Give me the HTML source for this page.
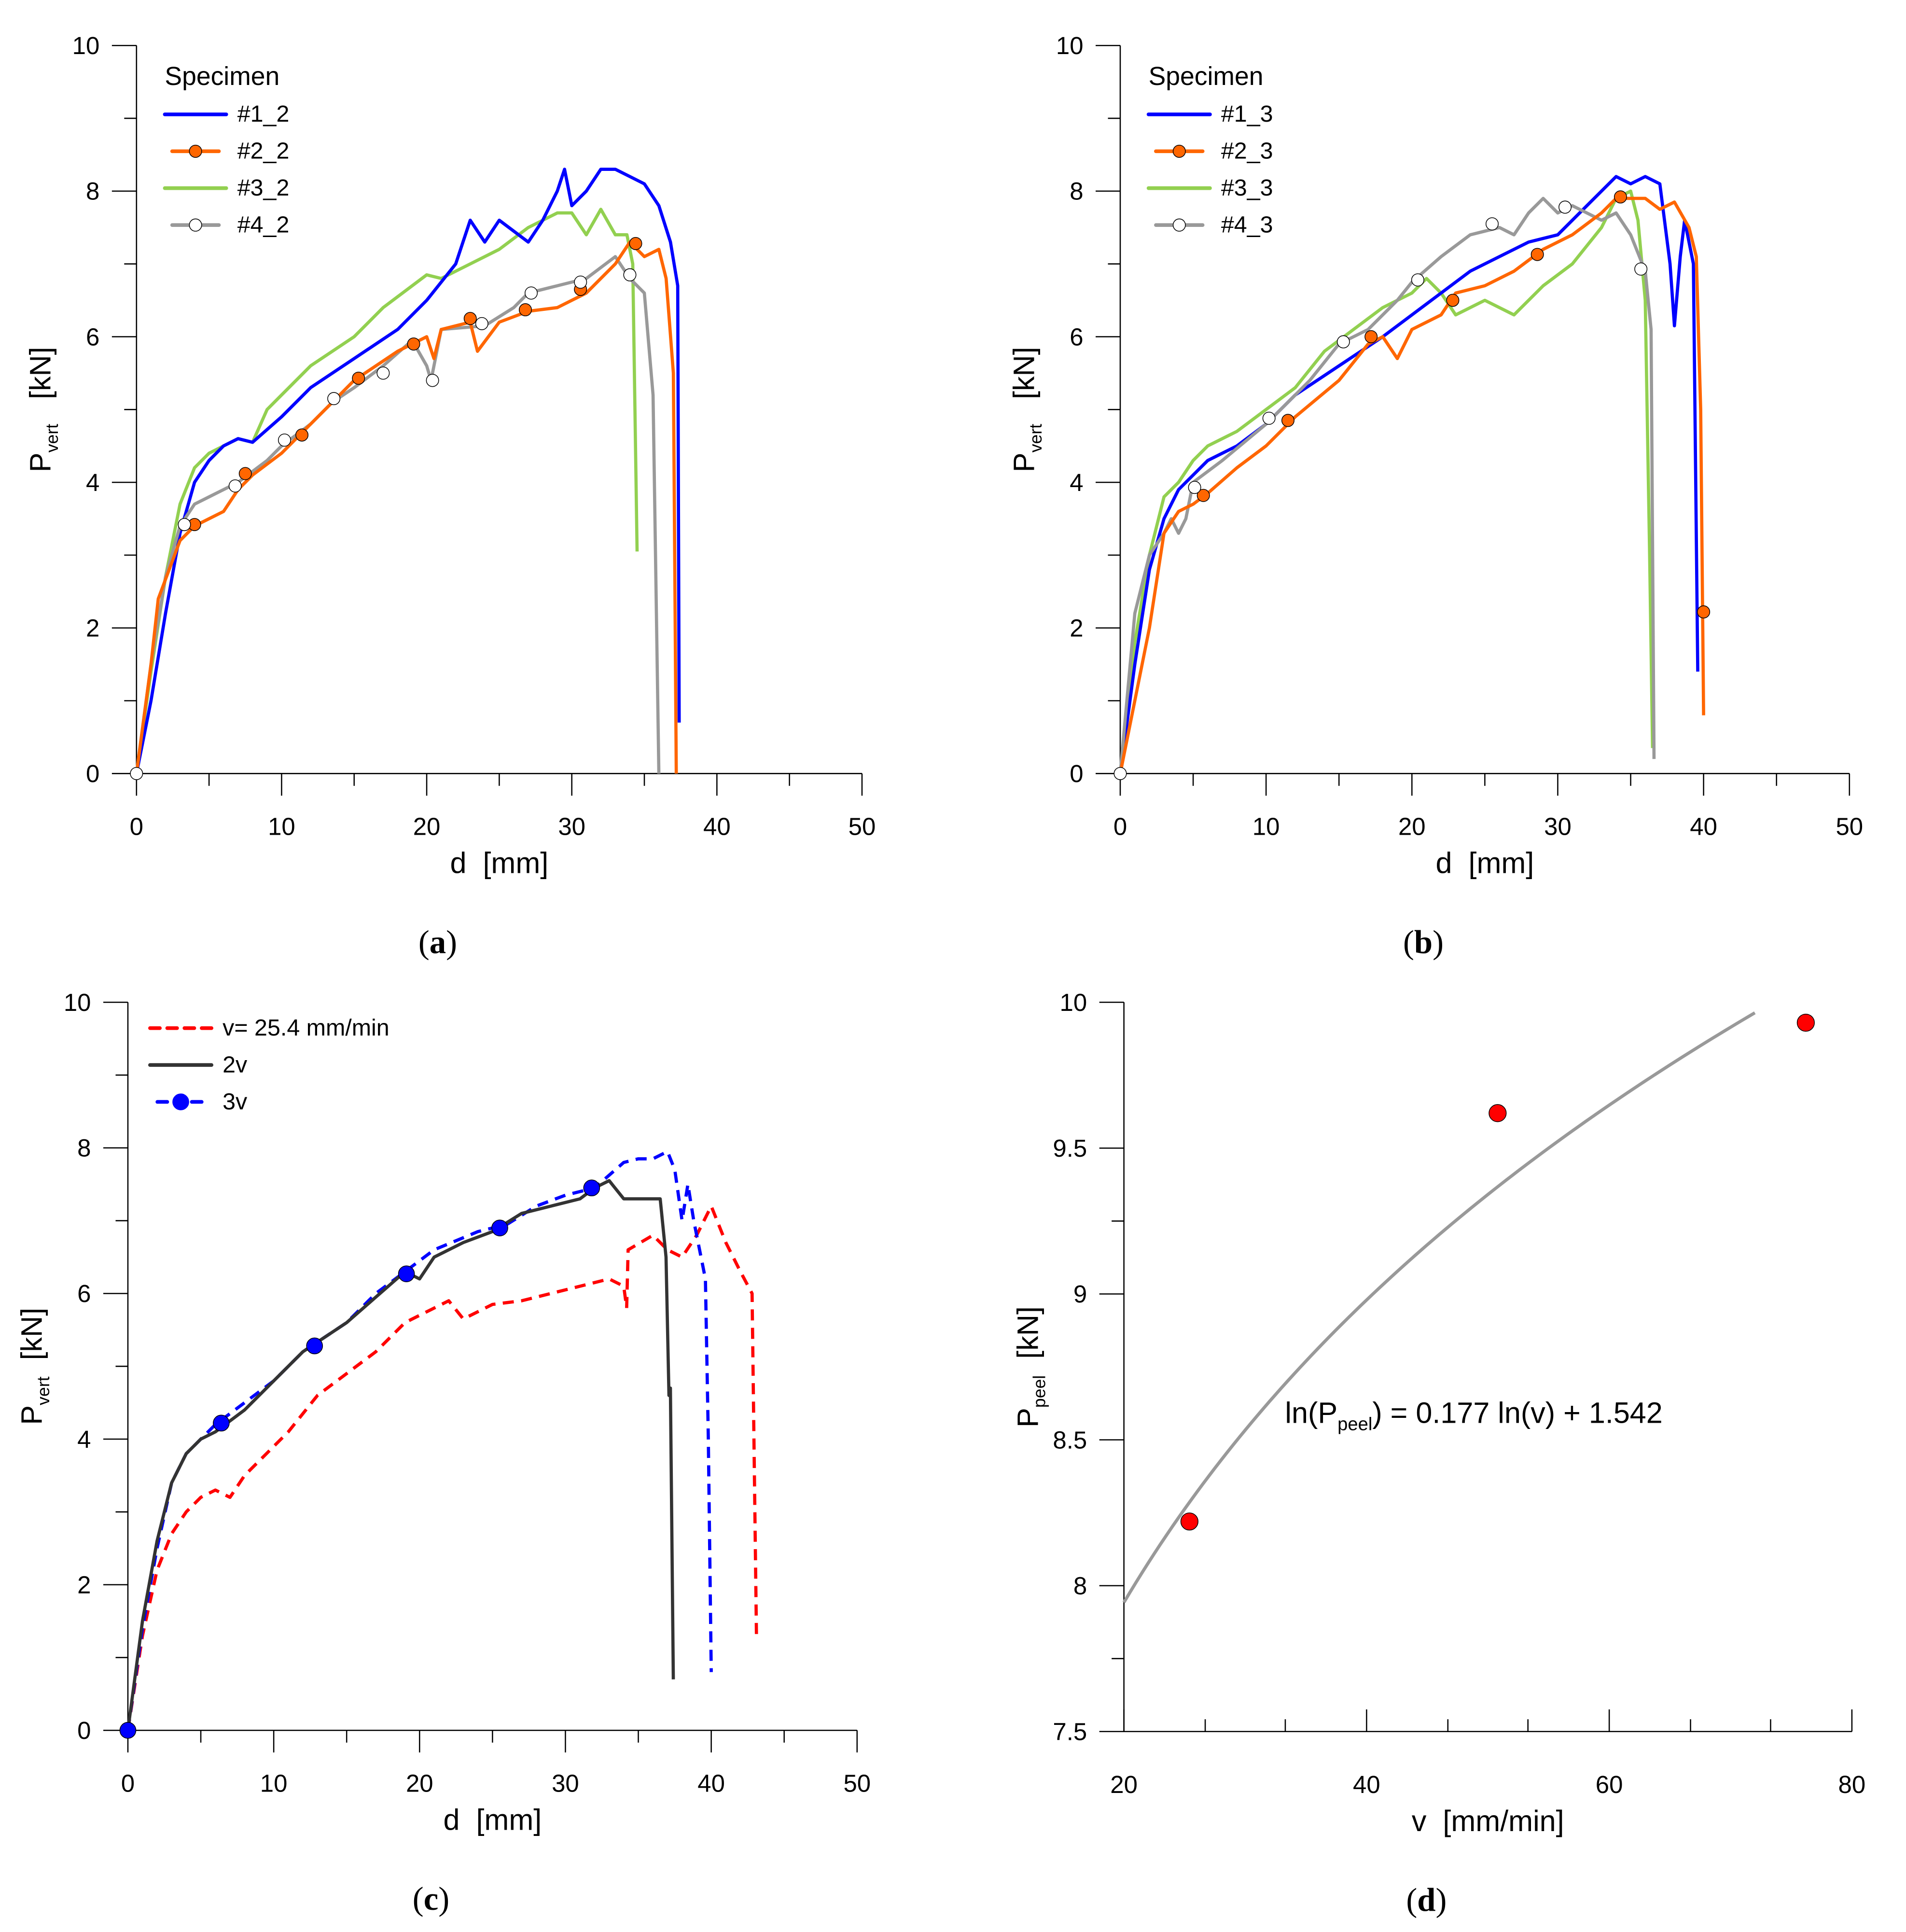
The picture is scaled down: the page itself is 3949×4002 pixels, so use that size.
<!DOCTYPE html>
<html><head><meta charset="utf-8"><style>html,body{margin:0;padding:0;background:#fff}svg{display:block}text{font-family:"Liberation Sans",Arial,sans-serif;fill:#000}text.cap{font-family:"Liberation Serif",serif}</style></head>
<body>
<svg id="fig" width="3949" height="4002" viewBox="0 0 1550 1571" preserveAspectRatio="none" xmlns="http://www.w3.org/2000/svg"></svg>
<script>
// ---- Panel (a) data: [d mm, P kN]
const a_s1 = [[0,0],[1,1],[2,2.2],[3,3.3],[4,4],[5,4.3],[6,4.5],[7,4.6],[8,4.55],[10,4.9],[12,5.3],[15,5.7],[18,6.1],[20,6.5],[22,7.0],[23,7.6],[24,7.3],[25,7.6],[27,7.3],[28,7.6],[29,8.0],[29.5,8.3],[30,7.8],[31,8.0],[32,8.3],[33,8.3],[34,8.2],[35,8.1],[36,7.8],[36.8,7.3],[37.3,6.7],[37.4,0.7]];
const a_s2 = [[0,0],[1,1.5],[1.5,2.4],[3,3.2],[4,3.4],[5,3.5],[6,3.6],[7,3.9],[8,4.1],[10,4.4],[12,4.8],[15,5.4],[18,5.8],[20,6.0],[20.5,5.7],[21,6.1],[23,6.2],[23.5,5.8],[25,6.2],[27,6.35],[29,6.4],[31,6.6],[33,7.0],[34,7.3],[35,7.1],[36,7.2],[36.5,6.8],[37,5.5],[37.2,0]];
const a_s2_marks = [[4,3.42],[7.5,4.12],[11.4,4.65],[15.3,5.43],[19.1,5.9],[23,6.25],[26.8,6.37],[30.6,6.65],[34.4,7.28]];
const a_s3 = [[0,0],[1,1.4],[2,2.7],[3,3.7],[4,4.2],[5,4.4],[6,4.5],[7,4.6],[8,4.55],[9,5.0],[10,5.2],[12,5.6],[15,6.0],[17,6.4],[19,6.7],[20,6.85],[21,6.8],[23,7.0],[25,7.2],[27,7.5],[29,7.7],[30,7.7],[31,7.4],[32,7.75],[33,7.4],[33.8,7.4],[34.2,7.0],[34.5,3.05]];
const a_s4 = [[0,0],[1,1.5],[2,2.7],[3,3.4],[4,3.7],[5,3.8],[6,3.9],[7,4.0],[9,4.3],[10,4.5],[12,4.8],[13.5,5.1],[15,5.3],[17,5.6],[19,5.95],[20,5.6],[20.3,5.4],[21,6.1],[24,6.15],[26,6.4],[27,6.6],[29,6.7],[31,6.8],[33,7.1],[34,6.8],[35,6.6],[35.6,5.2],[36,0]];
const a_s4_marks = [[0,0],[3.3,3.42],[6.8,3.95],[10.2,4.58],[13.6,5.15],[17,5.5],[20.4,5.4],[23.8,6.18],[27.2,6.6],[30.6,6.75],[34,6.85]];
// ---- Panel (b)
const b_s1 = [[0,0],[1,1.5],[2,2.8],[3,3.5],[4,3.9],[6,4.3],[8,4.5],[10,4.8],[12,5.2],[15,5.6],[18,6.0],[20,6.3],[22,6.6],[24,6.9],[26,7.1],[28,7.3],[30,7.4],[32,7.8],[34,8.2],[35,8.1],[36,8.2],[37,8.1],[37.7,7.0],[38,6.15],[38.4,7.1],[38.7,7.6],[39.3,7.0],[39.6,1.4]];
const b_s2 = [[0,0],[1,1.0],[2,2.0],[3,3.3],[4,3.6],[5,3.7],[6,3.85],[8,4.2],[10,4.5],[12,4.9],[15,5.4],[17,5.9],[18,6.0],[19,5.7],[20,6.1],[22,6.3],[23,6.6],[25,6.7],[27,6.9],[29,7.2],[31,7.4],[33,7.7],[34,7.9],[36,7.9],[37,7.75],[38,7.85],[39,7.5],[39.5,7.1],[39.8,5],[40,0.8]];
const b_s2_marks = [[5.7,3.82],[11.5,4.85],[17.2,6.0],[22.8,6.5],[28.6,7.13],[34.3,7.92],[40,2.22]];
const b_s3 = [[0,0],[1,1.8],[2,3.0],[3,3.8],[4,4.0],[5,4.3],[6,4.5],[8,4.7],[10,5.0],[12,5.3],[14,5.8],[16,6.1],[18,6.4],[20,6.6],[21,6.8],[22,6.6],[23,6.3],[25,6.5],[27,6.3],[29,6.7],[31,7.0],[33,7.5],[34,7.9],[35,8.0],[35.5,7.6],[36,6.5],[36.3,3],[36.5,0.35]];
const b_s4 = [[0,0],[1,2.2],[2,3.0],[3,3.3],[3.5,3.5],[4,3.3],[4.5,3.5],[5,4.0],[7,4.3],[10,4.8],[13,5.4],[15,5.9],[17,6.1],[19,6.5],[20,6.75],[22,7.1],[24,7.4],[26,7.5],[27,7.4],[28,7.7],[29,7.9],[30,7.7],[31,7.8],[33,7.6],[34,7.7],[35,7.4],[36,6.9],[36.4,6.1],[36.6,0.2]];
const b_s4_marks = [[0,0],[5.1,3.93],[10.2,4.88],[15.3,5.93],[20.4,6.78],[25.5,7.55],[30.5,7.78],[35.7,6.93]];
// ---- Panel (c)
const c_v1 = [[0,0],[1,1.3],[2,2.2],[3,2.7],[4,3.0],[5,3.2],[6,3.3],[7,3.2],[8,3.5],[10,3.9],[11,4.1],[13,4.6],[15,4.9],[17,5.2],[19,5.6],[21,5.8],[22,5.9],[23,5.65],[25,5.85],[27,5.9],[29,6.0],[31,6.1],[33,6.2],[34,6.1],[34.2,5.8],[34.3,6.6],[36,6.8],[37,6.6],[38,6.5],[39,6.8],[40,7.2],[41,6.7],[42,6.3],[42.8,6.0],[43.1,1.3]];
const c_v2 = [[0,0],[1,1.5],[2,2.6],[3,3.4],[4,3.8],[5,4.0],[6,4.1],[8,4.4],[10,4.8],[12,5.2],[15,5.6],[17,5.95],[19,6.3],[20,6.2],[21,6.5],[23,6.7],[25,6.85],[27,7.1],[29,7.2],[31,7.3],[32,7.45],[33,7.55],[34,7.3],[36.5,7.3],[36.9,6.5],[37.1,4.6],[37.2,4.7],[37.4,0.7]];
const c_v3 = [[0,0],[1,1.4],[2,2.5],[3,3.4],[4,3.8],[6,4.2],[8,4.5],[10,4.8],[12,5.2],[15,5.6],[17,6.0],[19,6.3],[21,6.6],[24,6.85],[26,6.95],[28,7.2],[30,7.35],[32,7.45],[34,7.8],[35,7.85],[36,7.85],[37,7.95],[37.5,7.7],[38,7.0],[38.4,7.5],[38.8,7.0],[39,6.8],[39.6,6.2],[39.8,4],[40,0.8]];
const c_v3_marks = [[0,0],[6.4,4.22],[12.8,5.28],[19.1,6.27],[25.5,6.9],[31.8,7.45]];
// ---- Panel (d)
const d_v = [25.4,50.8,76.2];
const d_P = [8.22,9.62,9.93];
const d_fitA = 0.177, d_fitB = 1.542, d_fitRange = [20,72];

const NS='http://www.w3.org/2000/svg';
const svg=document.getElementById('fig');
function mk(tag,attrs,parent){const e=document.createElementNS(NS,tag);for(const k in attrs)e.setAttribute(k,attrs[k]);(parent||svg).appendChild(e);return e;}
function txt(s,x,y,size,anchor,parent,name){const t=mk('text',{x:x,y:y,'font-size':size,'text-anchor':anchor||'middle'},parent);t.textContent=s;return t;}

function panel(o){
  const g=mk('g',{});
  
  
  const X=v=>o.x0+(v-o.xmin)/(o.xmax-o.xmin)*(o.x1-o.x0);
  const Y=v=>o.y0-(v-o.ymin)/(o.ymax-o.ymin)*(o.y0-o.y1);
  const ax=mk('path',{d:`M${o.x0-0},${o.y1}V${o.y0}H${o.x1}`,stroke:'#000','stroke-width':1,fill:'none'},g);
  
  
  o.yt.forEach(v=>{mk('line',{x1:o.x0-20,x2:o.x0,y1:Y(v),y2:Y(v),stroke:'#000'},g);txt(o.yl(v),o.x0-30,Y(v)+7,20,'end',g,'y-tick-label');});
  o.ytm.forEach(v=>mk('line',{x1:o.x0-10,x2:o.x0,y1:Y(v),y2:Y(v),stroke:'#000'},g));
  o.xt.forEach(v=>{mk('line',{x1:X(v),x2:X(v),y1:o.y0,y2:o.y0+(o.up?-18:18),stroke:'#000'},g);txt(String(v),X(v),o.y0+50,20,'middle',g,'x-tick-label');});
  o.xtm.forEach(v=>mk('line',{x1:X(v),x2:X(v),y1:o.y0,y2:o.y0+(o.up?-10:10),stroke:'#000'},g));
  const xt=txt(o.xlab,(o.x0+o.x1)/2,o.y0+81,24,'middle',g,'x-axis-title');
  xt.setAttribute('xml:space','preserve');xt.style.whiteSpace='pre';
  const yt=mk('text',{x:0,y:0,'font-size':24,'text-anchor':'middle',transform:`translate(${o.x0-70},${(o.y0+o.y1)/2}) rotate(-90)`},g);
  
  
  yt.innerHTML=o.ylab;
  const cap=mk('text',{x:(o.x0+o.x1)/2-50,y:o.y0+146,'font-size':27,'text-anchor':'middle','class':'cap'},g);
  
  
  cap.innerHTML='(<tspan font-weight="bold">'+o.cap+'</tspan>)';
  return {g,X,Y};
}
function line(p,data,color,name,dash){const d=data.map((q,i)=>(i?'L':'M')+p.X(q[0]).toFixed(2)+','+p.Y(q[1]).toFixed(2)).join('');const e=mk('path',{d:d,stroke:color,'stroke-width':2.6,fill:'none','stroke-linejoin':'round','stroke-dasharray':dash||'none'},p.g);}
function marks(p,data,fill,name,r){data.forEach(q=>{const c=mk('circle',{cx:p.X(q[0]),cy:p.Y(q[1]),r:r||5,fill:fill,stroke:'#000','stroke-width':0.6},p.g);});}
function legend(g,x,y,items,title){
  if(title)txt(title,x,y,21,'start',g,'legend-title');
  items.forEach((it,i)=>{const yy=y+30+i*30-(title?0:30);
    const lg=mk('g',{},g);
    mk('line',{x1:x+(it.m?6:0),x2:x+(it.m?44:50),y1:yy-6,y2:yy-6,stroke:it.c,'stroke-width':3,'stroke-linecap':'round','stroke-dasharray':it.dash||'none'},lg);
    if(it.m)mk('circle',{cx:x+25,cy:yy-6,r:it.r||5,fill:it.m,stroke:it.ms||'#000','stroke-width':0.6},lg);
    txt(it.t,x+59,yy,19,'start',lg,'legend-label');});
}
const ylabP='P<tspan font-size="14" dy="6">vert</tspan><tspan dy="-6">&#160;&#160;&#160;[kN]</tspan>';
const ylabPc='P<tspan font-size="14" dy="6">vert</tspan><tspan dy="-6">&#160;&#160;[kN]</tspan>';
const base={xmin:0,xmax:50,ymin:0,ymax:10,xt:[0,10,20,30,40,50],xtm:[5,15,25,35,45],yt:[0,2,4,6,8,10],ytm:[1,3,5,7,9],yl:v=>String(v),xlab:'d  [mm]'};

const pa=panel(Object.assign({},base,{name:'panel-a',x0:111,x1:701,y0:629,y1:37,cap:'a',ylab:ylabP}));
line(pa,a_s3,'#92d050','series-3-2');line(pa,a_s1,'#0000ff','series-1-2');line(pa,a_s4,'#999999','series-4-2');line(pa,a_s2,'#ff6600','series-2-2');
marks(pa,a_s2_marks,'#ff6600','marker-2-2');marks(pa,a_s4_marks,'#ffffff','marker-4-2');
legend(pa.g,134,69,[{t:'#1_2',c:'#0000ff'},{t:'#2_2',c:'#ff6600',m:'#ff6600'},{t:'#3_2',c:'#92d050'},{t:'#4_2',c:'#999999',m:'#ffffff'}],'Specimen');

const pb=panel(Object.assign({},base,{name:'panel-b',x0:911,x1:1504,y0:629,y1:37,cap:'b',ylab:ylabP}));
line(pb,b_s3,'#92d050','series-3-3');line(pb,b_s1,'#0000ff','series-1-3');line(pb,b_s4,'#999999','series-4-3');line(pb,b_s2,'#ff6600','series-2-3');
marks(pb,b_s2_marks,'#ff6600','marker-2-3');marks(pb,b_s4_marks,'#ffffff','marker-4-3');
legend(pb.g,934,69,[{t:'#1_3',c:'#0000ff'},{t:'#2_3',c:'#ff6600',m:'#ff6600'},{t:'#3_3',c:'#92d050'},{t:'#4_3',c:'#999999',m:'#ffffff'}],'Specimen');

const pc=panel(Object.assign({},base,{name:'panel-c',x0:104,x1:697,y0:1407,y1:815,cap:'c',ylab:ylabPc}));
line(pc,c_v1,'#ff0000','series-v','9,6');line(pc,c_v3,'#0000ff','series-3v','9,6');line(pc,c_v2,'#333333','series-2v');
marks(pc,c_v3_marks,'#0000ff','marker-3v',6.5);
legend(pc.g,122,842,[{t:'v= 25.4 mm/min',c:'#ff0000',dash:'8,6'},{t:'2v',c:'#333333'},{t:'3v',c:'#0000ff',dash:'8,6',m:'#0000ff',ms:'#0000ff',r:6.5}],null);

const pd=panel({name:'panel-d',x0:914,x1:1506,y0:1408,y1:815,xmin:20,xmax:80,ymin:7.5,ymax:10,xt:[20,40,60,80],xtm:[26.7,33.3,46.7,53.3,66.7,73.3],yt:[7.5,8,8.5,9,9.5,10],ytm:[7.75,9.25],yl:v=>String(v),xlab:'v  [mm/min]',cap:'d',up:true,ylab:'P<tspan font-size="14" dy="6">peel</tspan><tspan dy="-6">&#160;&#160;[kN]</tspan>'});
const fit=[];for(let v=d_fitRange[0];v<=d_fitRange[1]+1e-9;v+=0.5)fit.push([v,Math.exp(d_fitA*Math.log(v)+d_fitB)]);
line(pd,fit,'#999999','fit-curve');
marks(pd,d_v.map((v,i)=>[v,d_P[i]]),'#ff0000','data-point',7);
const eq=mk('text',{x:1045,y:1157,'font-size':24,'text-anchor':'start'},pd.g);


eq.innerHTML='ln(P<tspan font-size="15" dy="6">peel</tspan><tspan dy="-6">) = 0.177 ln(v) + 1.542</tspan>';
</script>
</body></html>
